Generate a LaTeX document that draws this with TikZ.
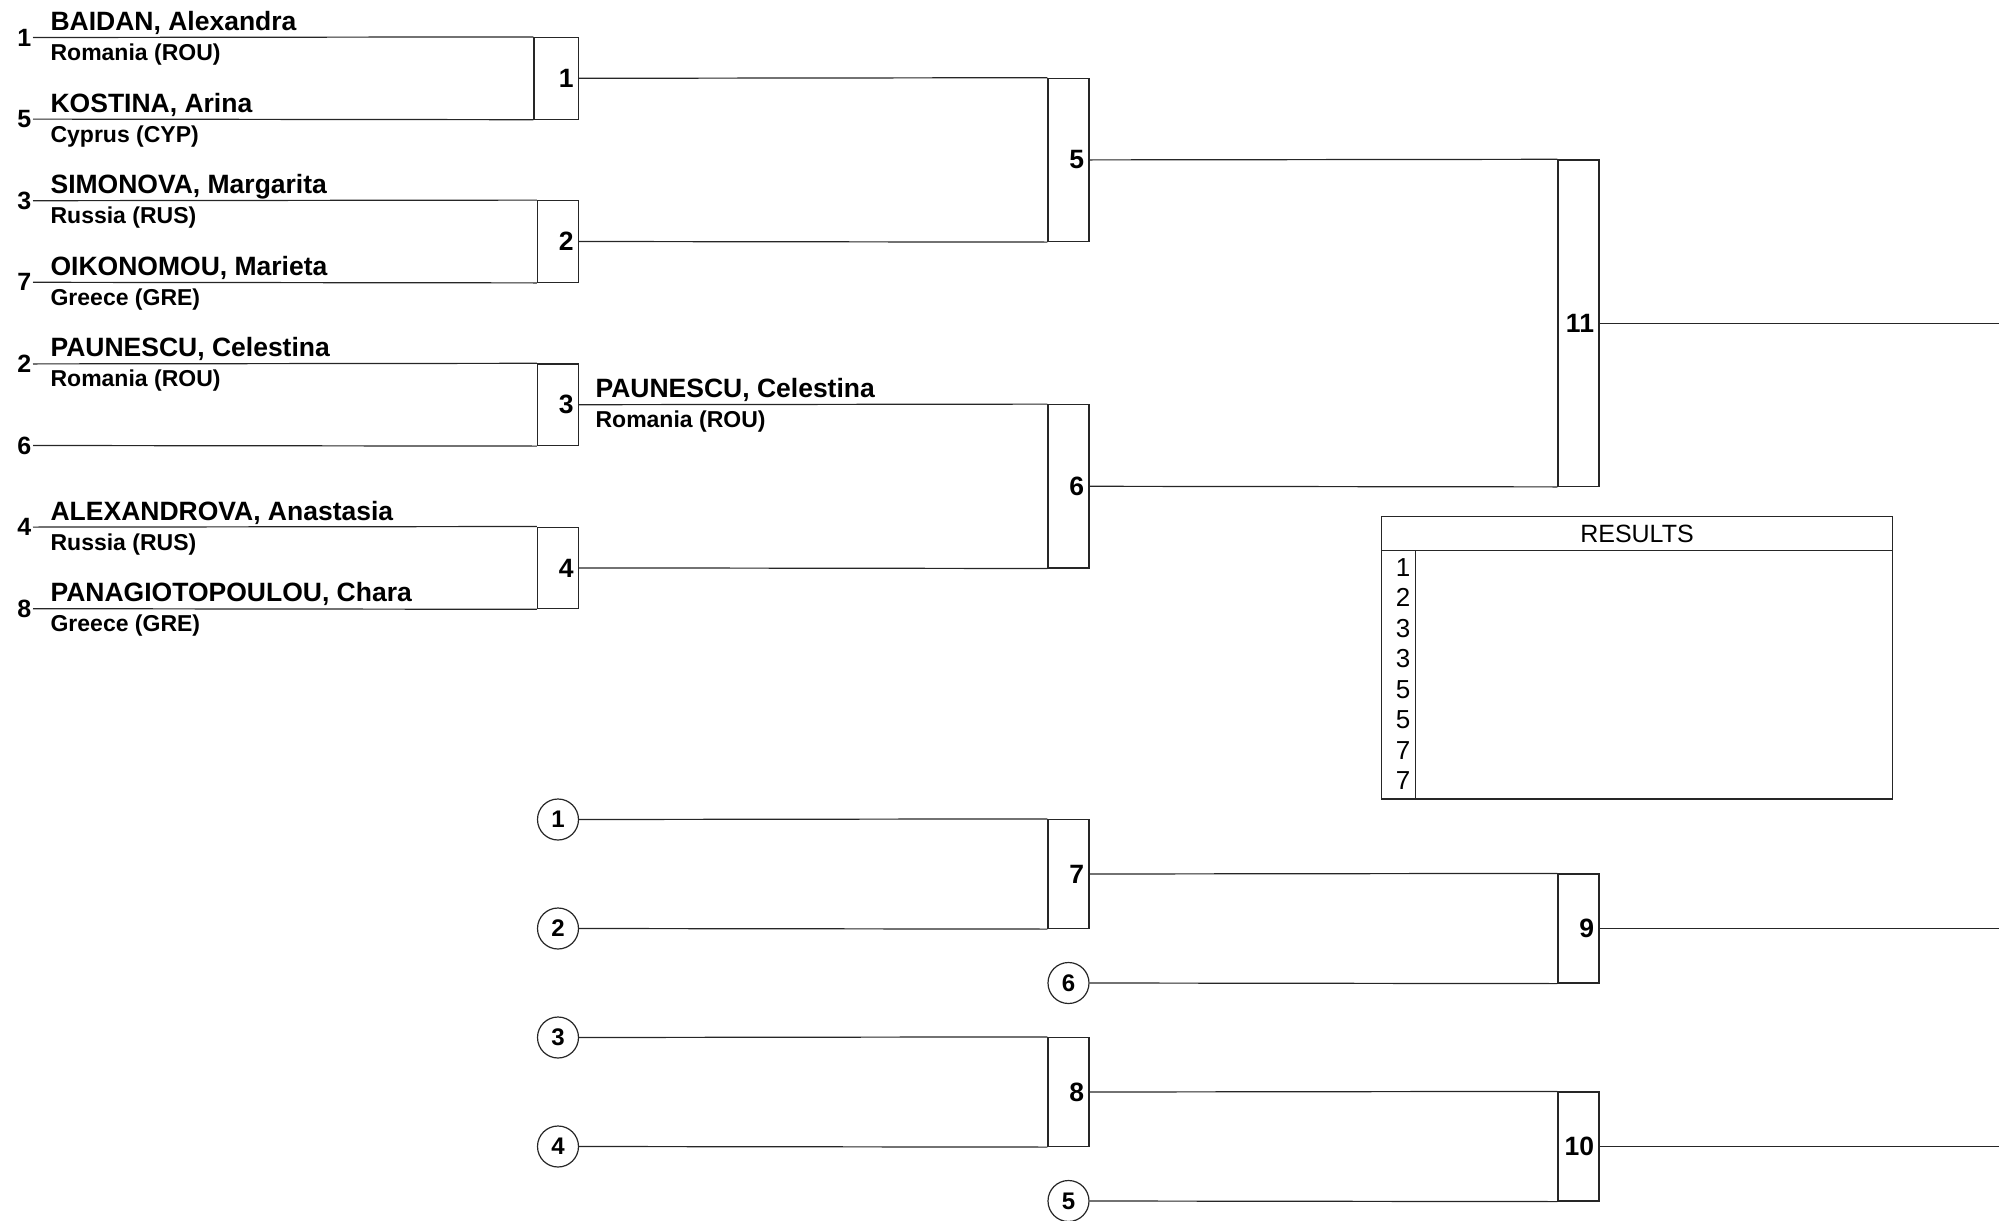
\documentclass[tikz,border=0pt]{standalone}
\usepackage{fontspec}
\setmainfont{Liberation Sans}
\usetikzlibrary{positioning}

\begin{document}
\begin{tikzpicture}[
    x=0.5pt,y=-0.5pt,line width=0.6pt,
    wire/.style={draw=black!85},
    seed/.style={anchor=east,inner xsep=0.5pt,inner ysep=0pt,font=\bfseries\fontsize{12.5}{12.5}\selectfont},
    player/.style={anchor=base west,inner sep=0pt,font=\bfseries\fontsize{13.25}{14}\selectfont},
    nation/.style={anchor=base west,inner sep=0pt,font=\bfseries\fontsize{11.5}{12}\selectfont},
    match/.style={rectangle,draw=black!85,inner xsep=2.5pt,inner ysep=0pt,text width=15.5pt,
                  align=right,font=\bfseries\fontsize{13.25}{13.25}\selectfont},
    loser/.style={circle,draw=black!85,minimum size=20.5pt,inner sep=0pt,font=\bfseries\fontsize{12}{12}\selectfont},
    place/.style={anchor=east,inner sep=0pt,font=\fontsize{13}{13}\selectfont},
]
\useasboundingbox (0,0) rectangle (1999,1221);

\node[match,minimum height=40.8pt,text width=17.25pt] (m1) at (556.25,78.3) {1};
\node[match,minimum height=40.8pt] (m2) at (558,241.5) {2};
\node[match,minimum height=40.8pt] (m3) at (558,404.7) {3};
\node[match,minimum height=40.8pt] (m4) at (558,567.9) {4};
\node[match,minimum height=81.6pt] (m5) at (1068.5,159.9) {5};
\node[match,minimum height=81.6pt] (m6) at (1068.5,486.3) {6};
\node[match,minimum height=163.2pt] (m11) at (1578.5,323.1) {11};
\node[match,minimum height=54.5pt] (m7) at (1068.5,874) {7};
\node[match,minimum height=54.5pt] (m8) at (1068.5,1092) {8};
\node[match,minimum height=54.5pt] (m9) at (1578.5,928.5) {9};
\node[match,minimum height=54.5pt] (m10) at (1578.5,1146.5) {10};

\node[seed] (s1) at (33,37.5) {1};
\node[seed] (s5) at (33,119.1) {5};
\node[seed] (s3) at (33,200.7) {3};
\node[seed] (s7) at (33,282.3) {7};
\node[seed] (s2) at (33,363.9) {2};
\node[seed] (s6) at (33,445.5) {6};
\node[seed] (s4) at (33,527.1) {4};
\node[seed] (s8) at (33,608.7) {8};

\node[player] (p1) at (50,30.5) {BAIDAN, Alexandra};
\node[nation] (n1) at (50,60.5) {Romania (ROU)};
\node[player] (p5) at (50,112.1) {KOSTINA, Arina};
\node[nation] (n5) at (50,142.1) {Cyprus (CYP)};
\node[player] (p3) at (50,193.7) {SIMONOVA, Margarita};
\node[nation] (n3) at (50,223.7) {Russia (RUS)};
\node[player] (p7) at (50,275.3) {OIKONOMOU, Marieta};
\node[nation] (n7) at (50,305.3) {Greece (GRE)};
\node[player] (p2) at (50,356.9) {PAUNESCU, Celestina};
\node[nation] (n2) at (50,386.9) {Romania (ROU)};
\node[player] (p4) at (50,520.1) {ALEXANDROVA, Anastasia};
\node[nation] (n4) at (50,550.1) {Russia (RUS)};
\node[player] (p8) at (50,601.7) {PANAGIOTOPOULOU, Chara};
\node[nation] (n8) at (50,631.7) {Greece (GRE)};
\node[player] (w3) at (595,397.7) {PAUNESCU, Celestina};
\node[nation] (w3n) at (595,427.7) {Romania (ROU)};

\draw[wire] (s1.east) -- (m1.north west);
\draw[wire] (s5.east) -- (m1.south west);
\draw[wire] (s3.east) -- (m2.north west);
\draw[wire] (s7.east) -- (m2.south west);
\draw[wire] (s2.east) -- (m3.north west);
\draw[wire] (s6.east) -- (m3.south west);
\draw[wire] (s4.east) -- (m4.north west);
\draw[wire] (s8.east) -- (m4.south west);
\draw[wire] (m1.east) -- (m5.north west);
\draw[wire] (m2.east) -- (m5.south west);
\draw[wire] (m3.east) -- (m6.north west);
\draw[wire] (m4.east) -- (m6.south west);
\draw[wire] (m5.east) -- (m11.north west);
\draw[wire] (m6.east) -- (m11.south west);
\coordinate (out11) at (1999,323.1);
\draw[wire] (m11.east) -- (out11);

\node[loser] (q1) at (558,819.5) {1};
\node[loser] (q2) at (558,928.5) {2};
\node[loser] (q3) at (558,1037.5) {3};
\node[loser] (q4) at (558,1146.5) {4};
\node[loser] (q6) at (1068.5,983) {6};
\node[loser] (q5) at (1068.5,1201) {5};
\coordinate (out9) at (1999,928.5);
\coordinate (out10) at (1999,1146.5);
\draw[wire] (q1.east) -- (m7.north west);
\draw[wire] (q2.east) -- (m7.south west);
\draw[wire] (q3.east) -- (m8.north west);
\draw[wire] (q4.east) -- (m8.south west);
\draw[wire] (m7.east) -- (m9.north west);
\draw[wire] (q6.east) -- (m9.south west);
\draw[wire] (m8.east) -- (m10.north west);
\draw[wire] (q5.east) -- (m10.south west);
\draw[wire] (m9.east) -- (out9);
\draw[wire] (m10.east) -- (out10);

\node[draw=black!85,minimum width=255.3pt,minimum height=141.15pt,inner sep=0pt] (res) at (1637,657.85) {};
\draw[wire] ([yshift=-17pt]res.north west) -- ([yshift=-17pt]res.north east);
\draw[wire] ([xshift=17pt,yshift=-17pt]res.north west) -- ([xshift=17pt]res.south west);
\node[font=\fontsize{12.5}{12.5}\selectfont] (restitle) at (1637,533.7) {RESULTS};
\node[place] (r1) at (1411,567.3) {1};
\node[place] (r2) at (1411,597.8) {2};
\node[place] (r3) at (1411,628.3) {3};
\node[place] (r4) at (1411,658.8) {3};
\node[place] (r5) at (1411,689.3) {5};
\node[place] (r6) at (1411,719.8) {5};
\node[place] (r7) at (1411,750.3) {7};
\node[place] (r8) at (1411,780.8) {7};
\end{tikzpicture}
\end{document}
